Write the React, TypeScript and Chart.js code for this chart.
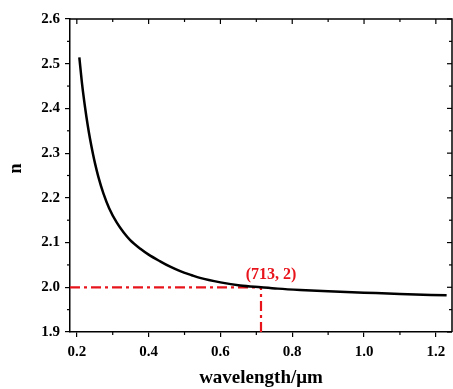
import React, { useEffect, useRef } from "react";
import { Chart, registerables } from "chart.js";

Chart.register(...registerables);

// ---- data ----
const wavelength = [
  0.207, 0.215, 0.223, 0.23, 0.237, 0.245, 0.251, 0.26, 0.274, 0.29, 0.311, 0.33, 0.348, 0.377, 0.4,
  0.432, 0.46, 0.488, 0.52, 0.543, 0.6, 0.655, 0.713, 0.76, 0.822, 0.9, 1.0, 1.1, 1.23,
];
const refractiveIndex = [
  2.514, 2.452, 2.402, 2.364, 2.331, 2.298, 2.276, 2.247, 2.21, 2.177, 2.145, 2.123, 2.106, 2.086, 2.073,
  2.058, 2.046, 2.036, 2.027, 2.021, 2.011, 2.004, 2.0, 1.997, 1.994, 1.991, 1.988, 1.985, 1.982,
];
const xTicks = [0.2, 0.4, 0.6, 0.8, 1.0, 1.2];
const xMinorTicks = [0.3, 0.5, 0.7, 0.9, 1.1];
const yTicks = [1.9, 2.0, 2.1, 2.2, 2.3, 2.4, 2.5, 2.6];
const yMinorTicks = [1.95, 2.05, 2.15, 2.25, 2.35, 2.45, 2.55];
const xMin = 0.181;
const xMax = 1.245;
const yMin = 1.9;
const yMax = 2.6;
const markX = 0.713;
const markY = 2.0;
const markLabel = "(713, 2)";
const xTitle = "wavelength/\u03bcm";
const yTitle = "n";

const SERIF = "'Times New Roman', 'Liberation Serif', serif";
const RED = "#e8141c";

const framePlugin = {
  id: "framePlugin",
  afterDraw(chart: any) {
    const { ctx, chartArea } = chart;
    const { left, right, top, bottom } = chartArea;
    const x = chart.scales.x;
    const y = chart.scales.y;
    ctx.save();
    ctx.strokeStyle = "#000";
    ctx.lineWidth = 1.5;
    const seg = (x1: number, y1: number, x2: number, y2: number) => {
      ctx.beginPath();
      ctx.moveTo(x1, y1);
      ctx.lineTo(x2, y2);
      ctx.stroke();
    };
    // top & right frame
    ctx.beginPath();
    ctx.moveTo(left, top);
    ctx.lineTo(right, top);
    ctx.lineTo(right, bottom);
    ctx.stroke();
    ctx.lineWidth = 1.2;
    xMinorTicks.forEach((v) => {
      const px = x.getPixelForValue(v);
      seg(px, bottom, px, bottom + 3);
      seg(px, top, px, top + 3);
    });
    xTicks.forEach((v) => {
      const px = x.getPixelForValue(v);
      seg(px, top, px, top + 5);
    });
    yMinorTicks.forEach((v) => {
      const py = y.getPixelForValue(v);
      seg(left - 3, py, left, py);
      seg(right - 3, py, right, py);
    });
    yTicks.forEach((v) => {
      const py = y.getPixelForValue(v);
      seg(right - 5, py, right, py);
    });
    // annotation
    ctx.fillStyle = RED;
    ctx.font = `bold 16px ${SERIF}`;
    ctx.textAlign = "center";
    ctx.textBaseline = "middle";
    ctx.fillText(markLabel, x.getPixelForValue(markX) + 10, y.getPixelForValue(markY) - 12);
    // y title
    ctx.fillStyle = "#000";
    ctx.font = `bold 18px ${SERIF}`;
    ctx.translate(16, (top + bottom) / 2 - 7);
    ctx.rotate(-Math.PI / 2);
    ctx.fillText(yTitle, 0, 0);
    ctx.restore();
  },
};

export default function App() {
  const canvasRef = useRef<HTMLCanvasElement | null>(null);

  useEffect(() => {
    const canvas = canvasRef.current;
    if (!canvas) return;
    const curve = wavelength.map((w, i) => ({ x: w, y: refractiveIndex[i] }));
    const chart = new Chart(canvas, {
      type: "scatter",
      data: {
        datasets: [
          {
            data: curve,
            showLine: true,
            borderColor: "#000",
            borderWidth: 2.5,
            pointRadius: 0,
            cubicInterpolationMode: "monotone",
          },
          {
            data: [
              { x: xMin, y: markY },
              { x: markX, y: markY },
            ],
            showLine: true,
            borderColor: RED,
            borderWidth: 2.2,
            borderDash: [10, 4, 3, 4],
            pointRadius: 0,
          },
          {
            data: [
              { x: markX, y: yMin },
              { x: markX, y: markY },
            ],
            showLine: true,
            borderColor: RED,
            borderWidth: 2.2,
            borderDash: [10, 4, 3, 4],
            pointRadius: 0,
          },
        ],
      } as any,
      options: {
        responsive: false,
        animation: false,
        devicePixelRatio: 1,
        layout: { padding: { left: 0, right: 1, top: 19, bottom: 0 } },
        plugins: { legend: { display: false }, tooltip: { enabled: false } },
        scales: {
          x: {
            type: "linear",
            min: xMin,
            max: xMax,
            afterBuildTicks: (scale: any) => {
              scale.ticks = xTicks.map((v) => ({ value: v }));
            },
            afterFit: (scale: any) => {
              scale.height = 57;
            },
            grid: {
              display: true,
              drawOnChartArea: false,
              drawTicks: true,
              tickLength: 5,
              color: "#000",
              lineWidth: 1.2,
            },
            border: { display: true, color: "#000", width: 1.5 },
            ticks: {
              color: "#000",
              padding: 6,
              font: { family: SERIF, size: 15, weight: "bold" },
              callback: (v: any) => Number(v).toFixed(1),
            },
            title: {
              display: true,
              text: xTitle,
              color: "#000",
              font: { family: SERIF, size: 19, weight: "bold" },
              padding: { top: 0, bottom: 0 },
            },
          },
          y: {
            type: "linear",
            min: yMin,
            max: yMax,
            afterBuildTicks: (scale: any) => {
              scale.ticks = yTicks.map((v) => ({ value: v }));
            },
            afterFit: (scale: any) => {
              scale.width = 70;
            },
            grid: {
              display: true,
              drawOnChartArea: false,
              drawTicks: true,
              tickLength: 5,
              color: "#000",
              lineWidth: 1.2,
            },
            border: { display: true, color: "#000", width: 1.5 },
            ticks: {
              color: "#000",
              padding: 5,
              font: { family: SERIF, size: 15, weight: "bold" },
              callback: (v: any) => Number(v).toFixed(1),
            },
          },
        },
      } as any,
      plugins: [framePlugin],
    });
    return () => chart.destroy();
  }, []);

  return (
    <div style={{ position: "fixed", left: 0, top: 0, width: 453, height: 389, background: "#fff" }}>
      <canvas ref={canvasRef} width={453} height={389} style={{ width: 453, height: 389 }} />
    </div>
  );
}
